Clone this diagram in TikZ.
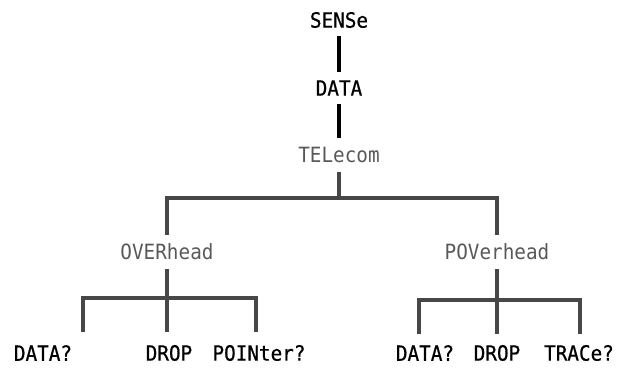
\documentclass[tikz,border=0pt]{standalone}
\usepackage{fontspec}
\newfontfamily\treefont[FakeStretch=0.92]{DejaVu Sans Mono}
\newfontfamily\leaffont[FakeStretch=0.92,FakeBold=0.7]{DejaVu Sans Mono}
\usetikzlibrary{positioning,calc}

\begin{document}
\begin{tikzpicture}[
  x=1pt,y=-1pt,
  font=\treefont\fontsize{21}{24}\selectfont,
  key/.style={inner sep=0pt,outer sep=8pt,text=black,font=\leaffont\fontsize{21}{24}\selectfont},
  sub/.style={inner sep=0pt,outer sep=9pt,text=black!65},
  leaf/.style={inner sep=0pt,text=black,font=\leaffont\fontsize{21}{24}\selectfont},
  stem/.style={line width=3.1pt,black},
  branch/.style={line width=3.1pt,black!72},
]
\useasboundingbox (0,0) rectangle (618,367);

% --- nodes: command chain at the top, two subsystems, their queries ---
\node[key] (sense) at (339,20)  {SENSe};
\node[key] (data)  at (339,88)  {DATA};
\node[sub] (tele)  at (339,155) {TELecom};
\node[sub] (over)  at (167,252) {OVERhead};
\node[sub] (pover) at (497,252) {POVerhead};

\node[leaf] (odata) at (43,353)  {DATA?};
\node[leaf] (odrop) at (169,353) {DROP};
\node[leaf] (opnt)  at (259,353) {POINter?};
\node[leaf] (pdata) at (425,353) {DATA?};
\node[leaf] (pdrop) at (497,353) {DROP};
\node[leaf] (ptrc)  at (579,353) {TRACe?};

% --- junctions of the bars and free ends of the legs ---
\coordinate (jt) at (339,198);
\coordinate (jo) at (167,298);
\coordinate (jp) at (497,300);
\coordinate (lo1) at (83,332);
\coordinate (lo2) at (167,332);
\coordinate (lo3) at (256,332);
\coordinate (lp1) at (419,334);
\coordinate (lp2) at (497,334);
\coordinate (lp3) at (580,334);

% --- chain ---
\draw[stem] (sense) -- (data);
\draw[stem] (data) -- (tele);

% --- tree ---
\draw[branch] (tele) -- (jt) -| (over);
\draw[branch] (jt) -| (pover);
\draw[branch] (over) -- (jo) -- (lo2);
\draw[branch] (lo1) |- (jo) -| (lo3);
\draw[branch] (pover) -- (jp) -- (lp2);
\draw[branch] (lp1) |- (jp) -| (lp3);

\end{tikzpicture}
\end{document}
